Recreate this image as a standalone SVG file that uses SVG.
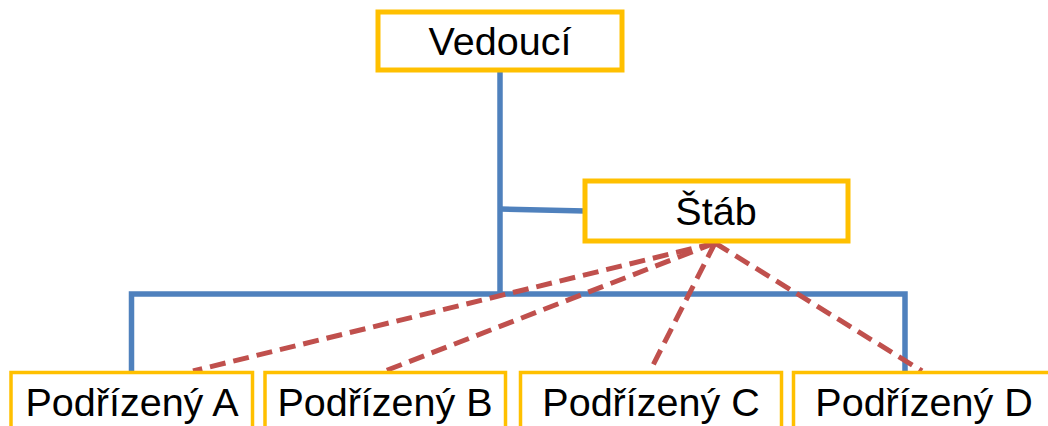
<svg xmlns="http://www.w3.org/2000/svg" width="1048" height="426" viewBox="0 0 1048 426">
<style>
.box{fill:#FFFFFF;stroke:#FFC000}
.top{stroke-width:5}
.sub{stroke-width:3.5}
.t{font-family:"Liberation Sans",Arial,sans-serif;font-size:39.5px;fill:#000000;text-anchor:middle}
.solid{fill:none;stroke:#4F81BD;stroke-width:5.5}
.dash{fill:none;stroke:#C0504D;stroke-width:5;stroke-dasharray:16 8}
</style>
<rect width="1048" height="426" fill="#FFFFFF"/>
<g id="connectors">
<path class="solid" d="M500,72 V294"/>
<path class="solid" d="M500,209 L585,211"/>
<path class="solid" d="M131.5,372 V294 H905 V372"/>
<path class="dash" d="M715,243 L193,371"/>
<path class="dash" d="M715,243 L385,371"/>
<path class="dash" d="M715,243 L650,371"/>
<path class="dash" d="M715,243 L922,371"/>
</g>
<g id="vedouci">
<rect class="box top" x="378" y="12" width="244" height="58"/>
<text class="t" x="500" y="55">Vedoucí</text>
</g>
<g id="stab">
<rect class="box top" x="585" y="181" width="263" height="60"/>
<text class="t" x="716" y="225">Štáb</text>
</g>
<g id="podrizeny-a">
<rect class="box sub" x="11" y="372.5" width="241.5" height="70"/>
<text class="t" x="132" y="416">Podřízený A</text>
</g>
<g id="podrizeny-b">
<rect class="box sub" x="265" y="372.5" width="240.5" height="70"/>
<text class="t" x="385" y="416">Podřízený B</text>
</g>
<g id="podrizeny-c">
<rect class="box sub" x="520.5" y="372.5" width="261" height="70"/>
<text class="t" x="651" y="416">Podřízený C</text>
</g>
<g id="podrizeny-d">
<rect class="box sub" x="793.5" y="372.5" width="266" height="70"/>
<text class="t" x="924" y="416">Podřízený D</text>
</g>
</svg>
